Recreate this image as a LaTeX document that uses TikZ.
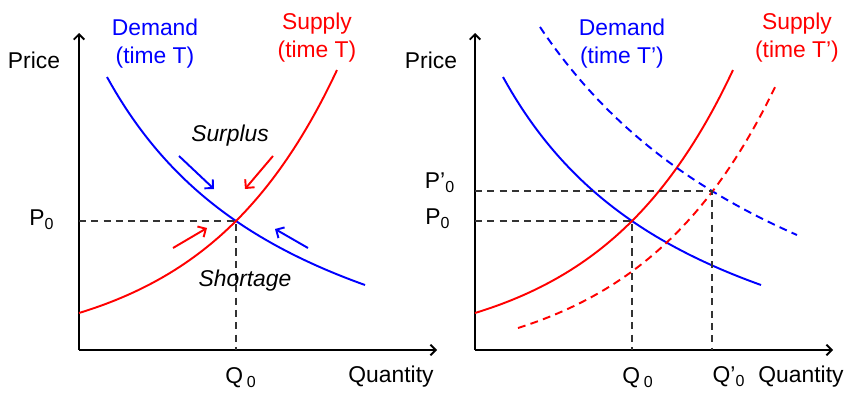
\documentclass[tikz,border=0pt]{standalone}
\usepackage{fontspec}
\setmainfont{Liberation Sans}
\usetikzlibrary{arrows.meta}

\begin{document}
\begin{tikzpicture}[
  x=0.02cm, y=-0.02cm,
  >=Stealth,
  lbl/.style={font=\fontsize{13}{16}\selectfont, inner sep=0pt, align=center},
  note/.style={font=\fontsize{13}{16}\selectfont\itshape, inner sep=0pt},
  axis/.style={-{Straight Barb[length=3pt,width=6pt]}, line width=1.1pt},
  dem/.style={blue, line width=1.1pt},
  sup/.style={red, line width=1.1pt},
  shifted/.style={dash pattern=on 4.5pt off 3pt},
  guide/.style={dash pattern=on 4pt off 3pt, line width=0.9pt, black!80},
  push/.style={-{Straight Barb[length=3.5pt,width=7pt]}, line width=1.1pt},
]
\useasboundingbox (0,0) rectangle (850,399);

%% ═══ TIME T ═══════════════════════════════════════════════════════════
\coordinate (lo)  at (79,350);
\coordinate (leq) at (236,221);
\coordinate (lpa) at (79,221);
\coordinate (lqa) at (236,350);

% axes
\draw[axis] (lo) -- (79,33);
\draw[axis] (lo) -- (437,350);
\node[lbl] (lprice) at (34,60)  {Price};
\node[lbl] (lqty)   at (391,377) {Quantity};

% curves
\draw[dem] plot[domain=107:365, samples=60] (\x, {451.4 - 772.76/((\x+99.4)/100)});
\draw[sup] plot[domain=79:337, samples=60]  (\x, {353.8 - 132.8*exp((\x-236)/133)});
\node[lbl, text=blue] (ldem) at (155,44) {Demand\\(time T)};
\node[lbl, text=red]  (lsup) at (317,38) {Supply\\(time T)};

% equilibrium
\draw[guide] (lpa) -- (leq) -- (lqa);
\node[lbl] (lp0) at (42,220) {P\textsubscript{0}};
\node[lbl] (lq0) at (241,378) {Q\,\textsubscript{0}};

% pressure towards equilibrium
\node[note] (surplus)  at (230,136) {Surplus};
\node[note] (shortage) at (245,281) {Shortage};
\coordinate (bu0) at (179,156); \coordinate (bu1) at (214,189);
\coordinate (ru0) at (273,156); \coordinate (ru1) at (245,189);
\coordinate (rd0) at (173,248); \coordinate (rd1) at (207,228);
\coordinate (bd0) at (308,248); \coordinate (bd1) at (275,229);
\draw[push, blue] (bu0) -- (bu1);
\draw[push, red]  (ru0) -- (ru1);
\draw[push, red]  (rd0) -- (rd1);
\draw[push, blue] (bd0) -- (bd1);

%% ═══ TIME T' ══════════════════════════════════════════════════════════
\coordinate (ro)   at (475,350);
\coordinate (req)  at (632,221);
\coordinate (rneq) at (712,191);
\coordinate (rpa)  at (475,221);
\coordinate (rqa)  at (632,350);
\coordinate (rpb)  at (475,191);
\coordinate (rqb)  at (712,350);

% axes
\draw[axis] (ro) -- (475,33);
\draw[axis] (ro) -- (833,350);
\node[lbl] (rprice) at (431,60)  {Price};
\node[lbl] (rqty)   at (801,377) {Quantity};

% old curves
\draw[dem] plot[domain=503:761, samples=60] (\x, {451.4 - 772.76/((\x-296.6)/100)});
\draw[sup] plot[domain=475:733, samples=60] (\x, {353.8 - 132.8*exp((\x-632)/133)});

% new curves
\draw[dem, shifted] plot[domain=540:797, samples=60] (\x, {482.1 - 1389.4/((\x-234.7)/100)});
\draw[sup, shifted] plot[domain=518:775, samples=60] (\x, {371.6 - 179.6*exp((\x-712)/137)});
\node[lbl, text=blue] (rdem) at (622,44) {Demand\\(time T')};
\node[lbl, text=red]  (rsup) at (797,38) {Supply\\(time T')};

% equilibria
\draw[guide] (rpa) -- (req) -- (rqa);
\draw[guide] (rpb) -- (rneq) -- (rqb);
\node[lbl] (rp0)  at (438,219) {P\textsubscript{0}};
\node[lbl] (rp1)  at (440,183) {P'\textsubscript{0}};
\node[lbl] (rq0)  at (638,378) {Q\,\textsubscript{0}};
\node[lbl] (rq1)  at (729,377) {Q'\textsubscript{0}};

\end{tikzpicture}
\end{document}
